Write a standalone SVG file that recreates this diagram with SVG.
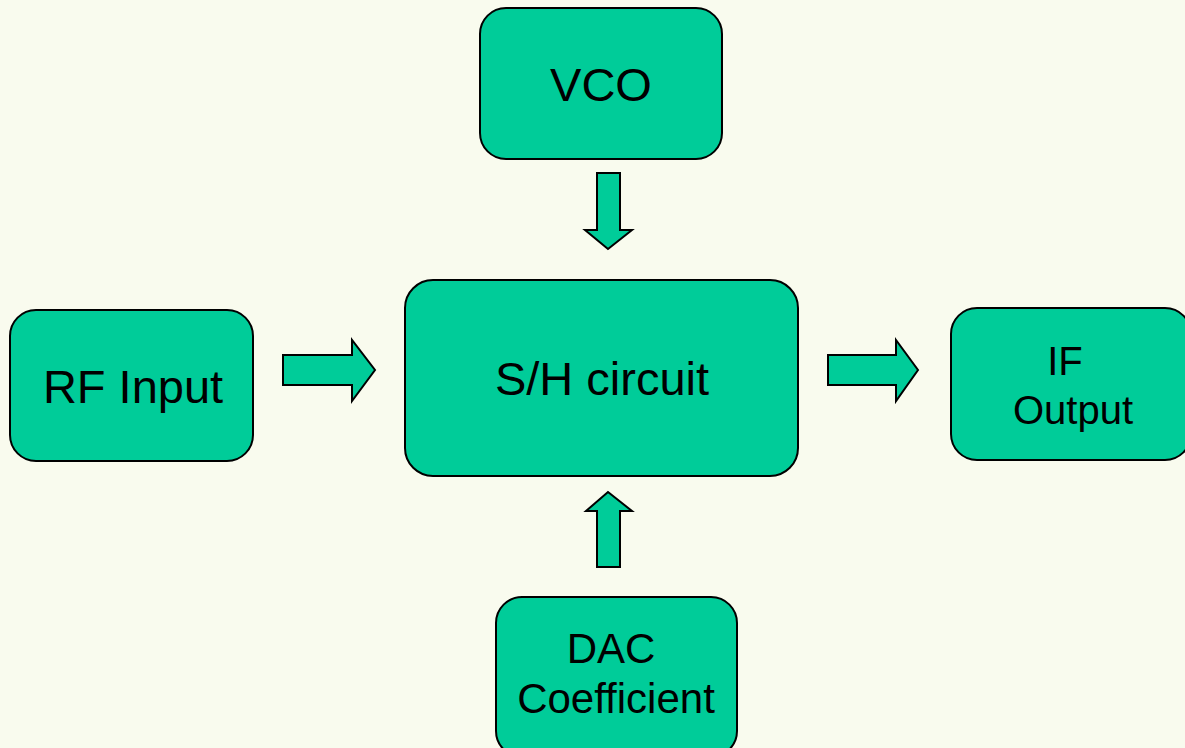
<svg xmlns="http://www.w3.org/2000/svg" width="1185" height="748" viewBox="0 0 1185 748">
<style>
.box{fill:#00CC99;stroke:#000;stroke-width:2}
.arr{fill:#00CC99;stroke:#000;stroke-width:2;stroke-linejoin:miter}
.t1{font-family:"Liberation Sans",Arial,sans-serif;font-size:47px;fill:#000;text-anchor:middle}
.t2{font-family:"Liberation Sans",Arial,sans-serif;font-size:40px;fill:#000;text-anchor:middle}
.t3{font-family:"Liberation Sans",Arial,sans-serif;font-size:42px;fill:#000;text-anchor:middle}
</style>
<rect width="1185" height="748" fill="#F9FBEE"/>
<g id="vco"><rect class="box" x="480" y="8" width="242" height="151" rx="26"/><text class="t1" x="601" y="101">VCO</text></g>
<g id="sh"><rect class="box" x="405" y="280" width="393" height="196" rx="28"/><text class="t1" x="602" y="395">S/H circuit</text></g>
<g id="rf"><rect class="box" x="10" y="310" width="243" height="151" rx="26"/><text class="t1" x="133" y="403">RF Input</text></g>
<g id="if"><rect class="box" x="951" y="308" width="240" height="152" rx="26"/><text class="t2" x="1065" y="375">IF</text><text class="t2" x="1073" y="424">Output</text></g>
<g id="dac"><rect class="box" x="496" y="597" width="241" height="160" rx="26"/><text class="t3" x="611" y="663">DAC</text><text class="t3" x="616" y="713">Coefficient</text></g>
<g id="connectors">
<polygon class="arr" points="597,173 620,173 620,230 632,230 608,249 585,230 597,230"/>
<polygon class="arr" points="283,355 352,355 352,340 375,370 352,401 352,385 283,385"/>
<polygon class="arr" points="828,355 896,355 896,340 918,370 896,401 896,385 828,385"/>
<polygon class="arr" points="597,567 620,567 620,511 632,511 608,492 586,511 597,511"/>
</g>
</svg>
